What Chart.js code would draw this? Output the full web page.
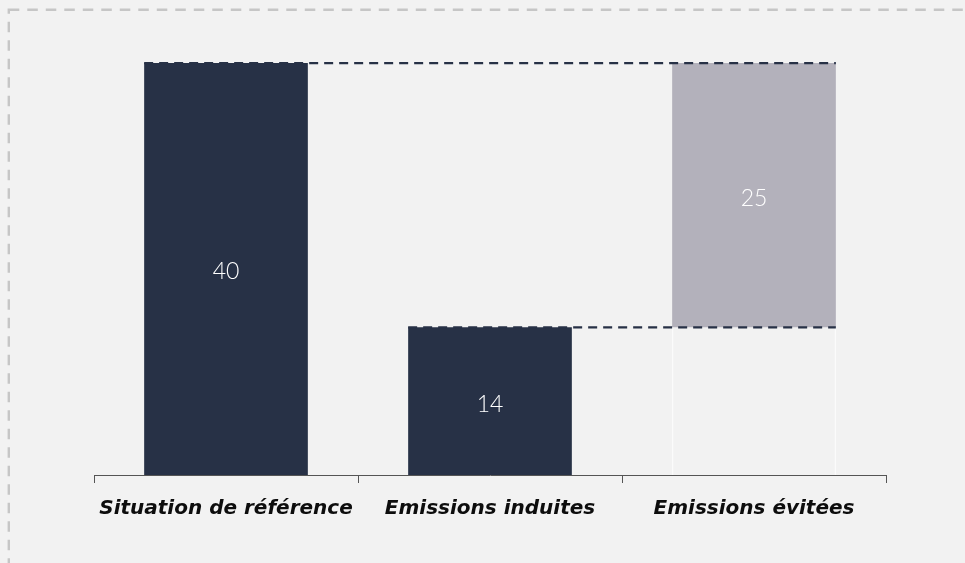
<!DOCTYPE html>
<html>
<head>
<meta charset="utf-8">
<script src="https://cdn.jsdelivr.net/npm/chart.js@4/dist/chart.umd.min.js"></script>
<style>
  html, body { margin: 0; padding: 0; background: #f2f2f2; overflow: hidden; }
  #frame { position: absolute; left: 0; top: 0; }
  #wrap { position: absolute; left: 0; top: 0; width: 965px; height: 563px; }
</style>
</head>
<body>
<svg id="frame" width="965" height="563">
  <rect x="8.8" y="9.8" width="1200" height="800" fill="none"
        stroke="#c6c6c6" stroke-width="2.4" stroke-dasharray="10.5 8"></rect>
</svg>
<div id="wrap"><canvas id="chart"></canvas></div>
<script>
const categories = ['Situation de référence', 'Emissions induites', 'Emissions évitées'];
const baseValues = [0, 0, 14.2];
const barValues = [39.6, 14.2, 25.4];
const barColors = ['#273146', '#273146', '#b3b1bb'];

// dashed connectors between bar tops, plus the value labels
const waterfallExtras = {
    id: 'waterfallExtras',
    afterDatasetsDraw(chart) {
        const ctx = chart.ctx;
        const bars = chart.getDatasetMeta(1).data;
        const last = bars[bars.length - 1];
        const rightEdge = last.x + last.width / 2;

        ctx.save();
        ctx.strokeStyle = '#273146';
        ctx.lineWidth = 2.2;
        ctx.setLineDash([9, 6]);
        [0, 1].forEach(i => {
            const b = bars[i];
            ctx.beginPath();
            ctx.moveTo(b.x - b.width / 2, b.y);
            ctx.lineTo(rightEdge, b.y);
            ctx.stroke();
        });
        ctx.setLineDash([]);

        ctx.fillStyle = '#ffffff';
        ctx.font = '300 23px Lato';
        ctx.textAlign = 'center';
        ctx.textBaseline = 'middle';
        bars.forEach((b, i) => {
            ctx.fillText(String(Math.round(barValues[i])), b.x, (b.y + b.base) / 2 + 3);
        });
        ctx.restore();
    }
};

new Chart(document.getElementById('chart'), {
    type: 'bar',
    data: {
        labels: categories,
        datasets: [{
            label: 'base',
            data: baseValues,
            backgroundColor: 'rgba(0,0,0,0)',
            borderColor: '#ffffff',
            borderWidth: { left: 1, right: 1, top: 0, bottom: 0 },
            categoryPercentage: 1,
            barPercentage: 0.62
        }, {
            label: 'valeur',
            data: barValues,
            backgroundColor: barColors,
            borderWidth: 0,
            categoryPercentage: 1,
            barPercentage: 0.62
        }]
    },
    options: {
        responsive: true,
        maintainAspectRatio: false,
        animation: false,
        layout: { padding: { left: 94, right: 79, top: 61, bottom: 0 } },
        plugins: {
            legend: { display: false },
            tooltip: { enabled: false }
        },
        scales: {
            x: {
                stacked: true,
                grid: {
                    offset: true,
                    drawOnChartArea: false,
                    drawTicks: true,
                    tickLength: 8,
                    color: '#555555'
                },
                border: { display: true, color: '#555555', width: 1 },
                ticks: {
                    color: '#0d0d0d',
                    padding: 14,
                    font: { family: 'DejaVu Sans', size: 20, style: 'italic', weight: 'bold' }
                },
                afterFit(scale) { scale.height = 88; }
            },
            y: {
                stacked: true,
                display: false,
                min: 0,
                max: 39.8
            }
        }
    },
    plugins: [waterfallExtras]
});
</script>
</body>
</html>
